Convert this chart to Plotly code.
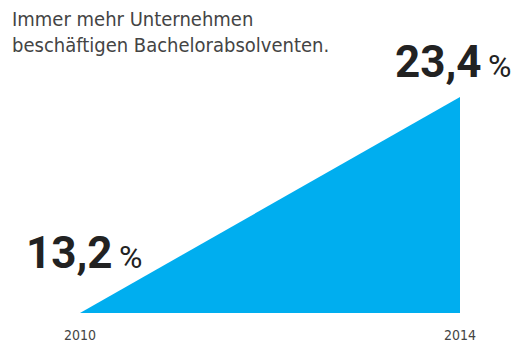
import plotly.graph_objects as go

# Share of companies employing bachelor graduates
years = [2010, 2014]
shares = [13.2, 23.4]
value_labels = ["13,2", "23,4"]
tick_labels = ["2010", "2014"]
headline = "Immer mehr Unternehmen<br>beschäftigen Bachelorabsolventen."

BLUE = "#00AEEF"
DARK = "#222222"
GREY = "#444444"

fig = go.Figure()
fig.add_trace(go.Scatter(
    x=years, y=shares, mode="lines", fill="tozeroy",
    fillcolor=BLUE, line=dict(color=BLUE, width=0),
    hoverinfo="skip", showlegend=False,
))

# Value labels with a smaller percent sign
label_pos = [dict(xanchor="left", xshift=-56, yshift=32),
             dict(xanchor="right", xshift=54, yshift=7)]
for x, y, txt, p in zip(years, shares, value_labels, label_pos):
    fig.add_annotation(
        x=x, y=y, xref="x", yref="y", showarrow=False,
        text=f"<b>{txt}</b><span style='font-size:32px'>\u2009%</span>",
        font=dict(family="Roboto", size=44, color=DARK),
        xanchor=p["xanchor"], yanchor="bottom",
        xshift=p["xshift"], yshift=p["yshift"],
    )

fig.add_annotation(
    x=0, y=1, xref="paper", yref="paper", showarrow=False,
    text=headline, align="left", xanchor="left", yanchor="top",
    xshift=-70, yshift=92,
    font=dict(family="DejaVu Sans Condensed", size=20, color=GREY),
)

fig.update_xaxes(range=[years[0], years[1]], tickvals=years, ticktext=tick_labels,
                 showgrid=False, zeroline=False, showline=False, automargin=False,
                 ticks="", ticklabelstandoff=12,
                 tickfont=dict(family="DejaVu Sans Condensed", size=14, color=GREY))
fig.update_yaxes(range=[shares[0], shares[1]], visible=False, showgrid=False,
                 automargin=False)

fig.update_layout(
    width=520, height=346,
    margin=dict(l=80, r=60, t=97, b=33),
    paper_bgcolor="white", plot_bgcolor="white",
)

fig.write_html("out.html")
